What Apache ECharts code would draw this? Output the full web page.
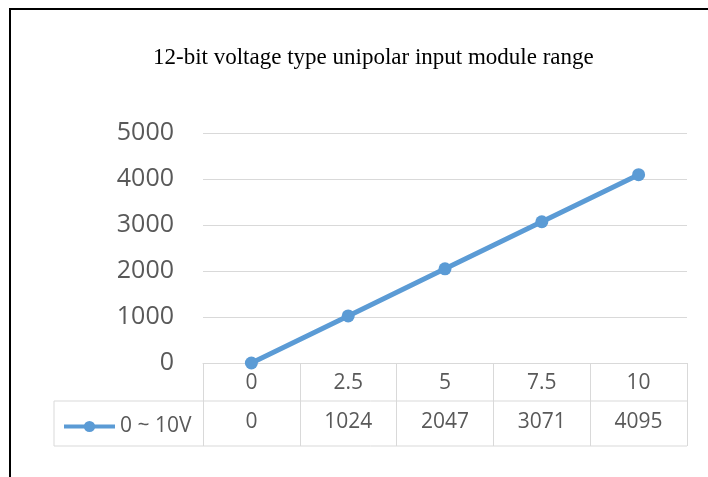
<!DOCTYPE html>
<html>
<head>
<meta charset="utf-8">
<script src="https://cdn.jsdelivr.net/npm/echarts@6/dist/echarts.min.js"></script>
<style>
  html,body{margin:0;padding:0;background:#fff;}
  #main{width:708px;height:477px;}
</style>
</head>
<body>
<div id="main"></div>
<script>
var voltage = ["0", "2.5", "5", "7.5", "10"];
var codeValue = [0, 1024, 2047, 3071, 4095];
var yTicks = [0, 1000, 2000, 3000, 4000, 5000];
var seriesName = "0 ~ 10V";

// layout of the plot / table
var gLeft = 203, gRight = 687, gTop = 133, gBottom = 363;
var rowMid = 401, rowEnd = 446, legendLeft = 54;
var lineCol = "#d9d9d9", textCol = "#595959";
var blue = "#5b9bd5";

var chart = echarts.init(document.getElementById("main"));
chart.setOption({
  animation: false,
  backgroundColor: "#fff",
  title: {
    text: "12-bit voltage type unipolar input module range",
    left: 148,
    top: 41,
    textStyle: {fontFamily: "Liberation Serif", fontSize: 23, fontWeight: "normal", color: "#000"}
  },
  legend: {
    left: legendLeft + 8,
    top: 416,
    padding: 0,
    itemWidth: 51,
    itemHeight: 14,
    itemGap: 4,
    lineStyle: {width: 4},
    textStyle: {fontFamily: "Open Sans", fontSize: 21, color: textCol},
    data: [seriesName]
  },
  grid: {left: gLeft, right: 708 - gRight, top: gTop, bottom: 477 - gBottom},
  xAxis: [
    {
      type: "category",
      data: voltage,
      boundaryGap: true,
      axisLine: {lineStyle: {color: lineCol, width: 1}},
      axisTick: {show: true, interval: 0, length: rowEnd - gBottom, lineStyle: {color: lineCol}},
      axisLabel: {interval: 0, margin: 10, fontFamily: "Open Sans", fontSize: 21, color: textCol}
    },
    {
      type: "category",
      position: "bottom",
      offset: rowMid - gBottom,
      data: codeValue.map(String),
      axisLine: {show: false},
      axisTick: {show: false},
      axisLabel: {interval: 0, margin: 11, fontFamily: "Open Sans", fontSize: 21, color: textCol}
    }
  ],
  yAxis: {
    type: "value",
    min: yTicks[0],
    max: yTicks[yTicks.length - 1],
    interval: 1000,
    axisLine: {show: false},
    axisTick: {show: false},
    splitLine: {lineStyle: {color: lineCol, width: 1}},
    axisLabel: {
      margin: 29,
      fontFamily: "Open Sans",
      fontSize: 25,
      color: textCol,
      formatter: function (v) { return String(v); }
    }
  },
  series: [{
    name: seriesName,
    type: "line",
    data: codeValue,
    symbol: "circle",
    symbolSize: 13,
    lineStyle: {color: blue, width: 5},
    itemStyle: {color: blue}
  }],
  graphic: [
    // figure border (top + left)
    {type: "line", shape: {x1: 9, y1: 9, x2: 708, y2: 9}, style: {stroke: "#000", lineWidth: 2}},
    {type: "line", shape: {x1: 10, y1: 9, x2: 10, y2: 477}, style: {stroke: "#000", lineWidth: 2}},
    // data table rows
    {type: "line", shape: {x1: legendLeft, y1: rowMid, x2: gRight, y2: rowMid}, style: {stroke: lineCol, lineWidth: 1}},
    {type: "line", shape: {x1: legendLeft, y1: rowEnd, x2: gRight, y2: rowEnd}, style: {stroke: lineCol, lineWidth: 1}},
    {type: "line", shape: {x1: legendLeft, y1: rowMid, x2: legendLeft, y2: rowEnd}, style: {stroke: lineCol, lineWidth: 1}}
  ]
});
</script>
</body>
</html>
